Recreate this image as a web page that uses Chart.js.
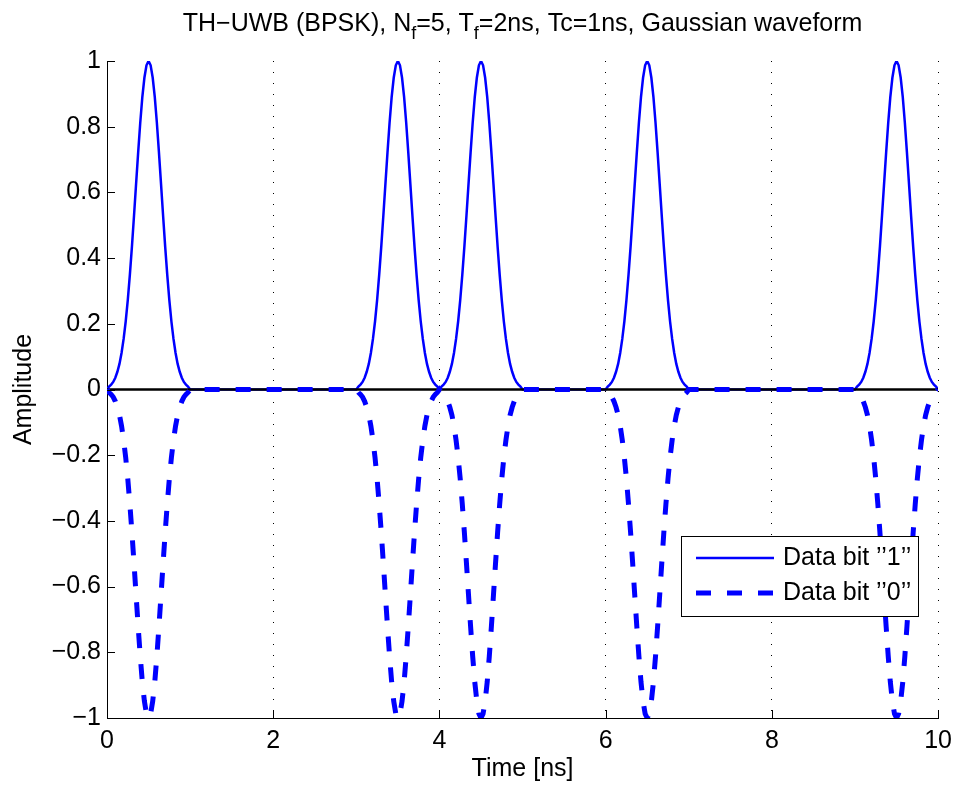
<!DOCTYPE html>
<html>
<head>
<meta charset="utf-8">
<script src="https://cdn.jsdelivr.net/npm/chart.js@4.4.1/dist/chart.umd.min.js"></script>
<style>
    html, body { margin: 0; padding: 0; background: #fff; }
    canvas { display: block; }
</style>
</head>
<body>
<canvas id="uwbChart" width="960" height="787"></canvas>
<script>
// Pulse positions (ns): frame * Tf + hop * Tc
const pulseStarts = [0, 3, 4, 6, 9];
const pulseStep = 0.025; // ns between samples of one pulse
// one Gaussian pulse over Tc = 1 ns
const pulseShape = [
    0, 0.009, 0.015, 0.023, 0.036, 0.054, 0.078, 0.111, 0.154, 0.207,
    0.272, 0.349, 0.435, 0.529, 0.626, 0.722, 0.812, 0.890, 0.949, 0.987,
    1,
    0.987, 0.949, 0.890, 0.812, 0.722, 0.626, 0.529, 0.435, 0.349, 0.272,
    0.207, 0.154, 0.111, 0.078, 0.054, 0.036, 0.023, 0.015, 0.009, 0
];
const xTicks = [0, 2, 4, 6, 8, 10];
const yTicks = [-1, -0.8, -0.6, -0.4, -0.2, 0, 0.2, 0.4, 0.6, 0.8, 1];
const seriesLabels = ['Data bit \u2019\u20191\u2019\u2019', 'Data bit \u2019\u20190\u2019\u2019'];

const FONT = "'Liberation Sans', Arial, Helvetica, sans-serif";
const BLUE = '#0000ff';

function buildTrain(sign) {
    const pts = [];
    pulseStarts.forEach(p => {
        pulseShape.forEach((v, i) => pts.push({ x: p + i * pulseStep, y: sign * v }));
    });
    return pts;
}

const fmtTick = (v) => {
    const n = Math.round(v * 10) / 10;
    return n < 0 ? '\u2212' + String(Math.abs(n)) : String(n);
};

// title with subscripts, inner ticks and legend box like the MATLAB figure
const figurePlugin = {
    id: 'figureExtras',
    afterDraw: (chart) => {
        const { ctx, chartArea } = chart;
        const xs = chart.scales.x, ys = chart.scales.y;
        ctx.save();

        // tick marks pointing inward
        ctx.strokeStyle = '#000';
        ctx.lineWidth = 1;
        ctx.beginPath();
        yTicks.forEach(v => {
            const py = Math.round(ys.getPixelForValue(v)) + 0.5;
            ctx.moveTo(chartArea.left, py);
            ctx.lineTo(chartArea.left + 8, py);
        });
        xTicks.forEach(v => {
            const px = Math.round(xs.getPixelForValue(v)) + 0.5;
            ctx.moveTo(px, chartArea.bottom);
            ctx.lineTo(px, chartArea.bottom - 8);
        });
        ctx.stroke();

        // title
        const parts = [
            { t: 'TH\u2212UWB (BPSK), N', sub: false },
            { t: 'f', sub: true },
            { t: '=5, T', sub: false },
            { t: 'f', sub: true },
            { t: '=2ns, Tc=1ns, Gaussian waveform', sub: false }
        ];
        const mainFont = `25px ${FONT}`, subFont = `18px ${FONT}`;
        let total = 0;
        parts.forEach(p => {
            ctx.font = p.sub ? subFont : mainFont;
            p.w = ctx.measureText(p.t).width;
            total += p.w;
        });
        let tx = (chartArea.left + chartArea.right) / 2 - total / 2;
        const baseY = 31;
        ctx.fillStyle = '#000';
        ctx.textAlign = 'left';
        ctx.textBaseline = 'alphabetic';
        parts.forEach(p => {
            ctx.font = p.sub ? subFont : mainFont;
            ctx.fillText(p.t, tx, p.sub ? baseY + 8 : baseY);
            tx += p.w;
        });

        // legend
        const bx = 681, by = 536, bw = 237, bh = 80;
        ctx.fillStyle = '#fff';
        ctx.fillRect(bx, by, bw, bh);
        ctx.strokeStyle = '#000';
        ctx.lineWidth = 1;
        ctx.strokeRect(bx + 0.5, by + 0.5, bw, bh);
        const rows = [0, 1].map(i => chart.data.datasets[i]);
        rows.forEach((ds, i) => {
            const ly = by + 22 + i * 35;
            ctx.strokeStyle = ds.borderColor;
            ctx.lineWidth = ds.borderWidth;
            ctx.setLineDash(ds.borderDash || []);
            ctx.beginPath();
            ctx.moveTo(696, ly);
            ctx.lineTo(774, ly);
            ctx.stroke();
            ctx.setLineDash([]);
            ctx.fillStyle = '#000';
            ctx.font = mainFont;
            ctx.textBaseline = 'middle';
            ctx.fillText(ds.label, 783, ly);
        });
        ctx.restore();
    }
};

new Chart(document.getElementById('uwbChart'), {
    type: 'line',
    data: {
        datasets: [
            {
                label: seriesLabels[0],
                data: buildTrain(1),
                borderColor: BLUE,
                borderWidth: 2.5,
                pointRadius: 0,
                tension: 0,
                order: 2
            },
            {
                label: seriesLabels[1],
                data: buildTrain(-1),
                borderColor: BLUE,
                borderWidth: 5,
                borderDash: [15, 16],
                borderCapStyle: 'butt',
                pointRadius: 0,
                tension: 0,
                order: 0
            },
            {
                label: 'zero',
                data: [{ x: 0, y: 0 }, { x: 10, y: 0 }],
                borderColor: '#000',
                borderWidth: 2.5,
                pointRadius: 0,
                order: 1
            }
        ]
    },
    options: {
        responsive: false,
        animation: false,
        devicePixelRatio: 1,
        layout: { padding: { top: 61, right: 18, bottom: 0, left: 0 } },
        plugins: {
            legend: { display: false },
            tooltip: { enabled: false },
            title: { display: false }
        },
        scales: {
            x: {
                type: 'linear',
                min: 0,
                max: 10,
                afterBuildTicks: (s) => { s.ticks = xTicks.map(v => ({ value: v })); },
                afterFit: (s) => { s.height = 69; },
                ticks: {
                    color: '#000',
                    font: { family: FONT, size: 25 },
                    padding: 8,
                    maxRotation: 0,
                    autoSkip: false,
                    callback: (v) => String(v)
                },
                grid: {
                    drawTicks: false,
                    color: (c) => (c.tick && c.tick.value === 0 ? 'rgba(0,0,0,0)' : '#000'),
                    lineWidth: 1
                },
                border: { display: true, color: '#000', width: 1, dash: [1, 10] },
                title: {
                    display: true,
                    text: 'Time [ns]',
                    color: '#000',
                    font: { family: FONT, size: 25 },
                    padding: { top: 0, bottom: 3 }
                }
            },
            y: {
                min: -1,
                max: 1,
                afterBuildTicks: (s) => { s.ticks = yTicks.map(v => ({ value: v })); },
                afterFit: (s) => { s.width = 107; },
                ticks: {
                    color: '#000',
                    font: { family: FONT, size: 25 },
                    padding: 6,
                    autoSkip: false,
                    callback: fmtTick
                },
                grid: { display: false, drawTicks: false },
                border: { display: true, color: '#000', width: 1 },
                title: {
                    display: true,
                    text: 'Amplitude',
                    color: '#000',
                    font: { family: FONT, size: 25 },
                    padding: { top: 9, bottom: 0 }
                }
            }
        }
    },
    plugins: [figurePlugin]
});
</script>
</body>
</html>
